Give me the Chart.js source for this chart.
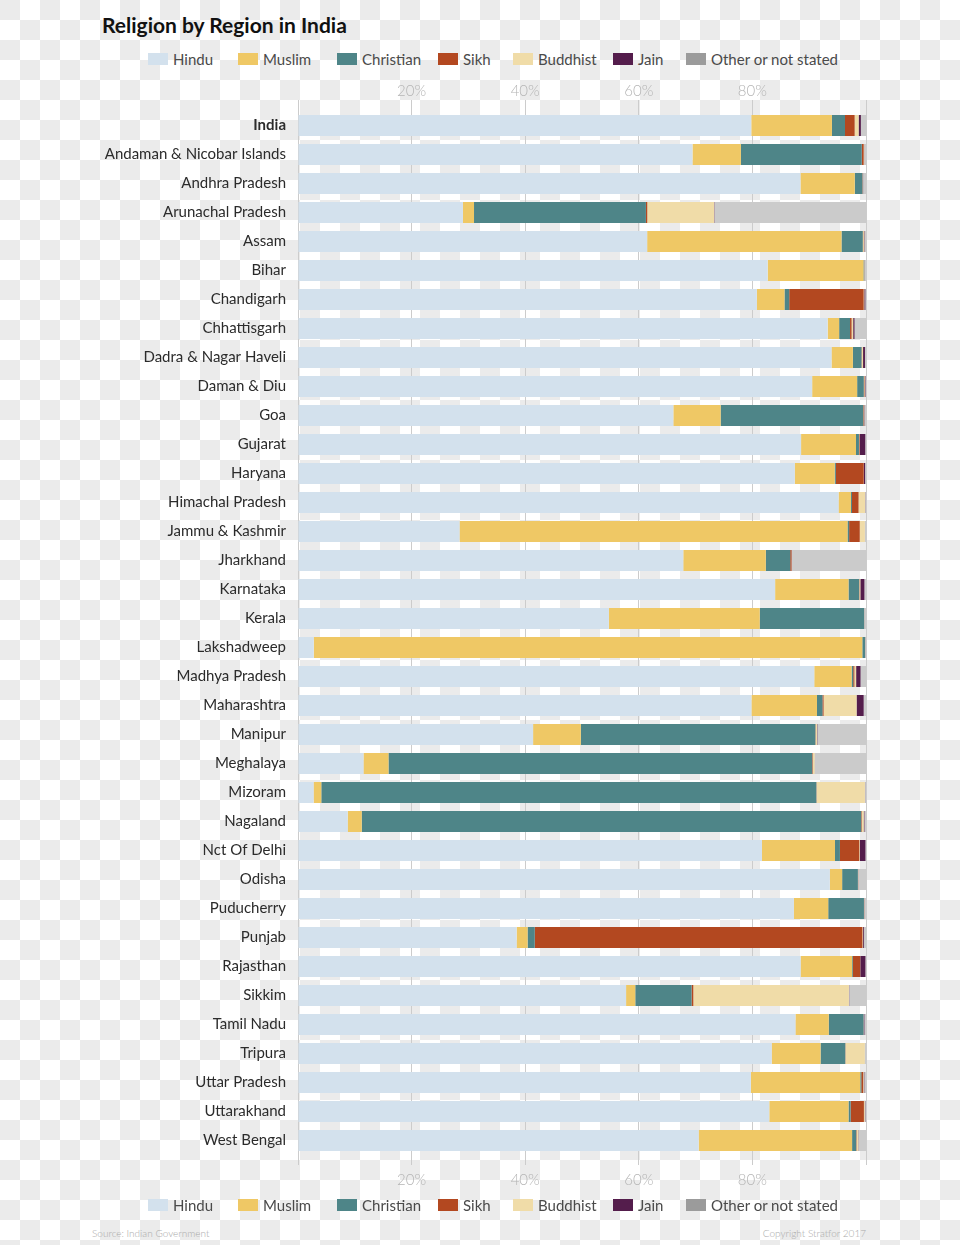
<!DOCTYPE html>
<html>
<head>
<meta charset="utf-8">
<script src="https://cdn.jsdelivr.net/npm/chart.js@4.4.0/dist/chart.umd.min.js"></script>
<style>
    html, body { margin: 0; padding: 0; }
    body {
        width: 960px; height: 1245px; position: relative; overflow: hidden;
        font-family: Lato, sans-serif;
        background: repeating-conic-gradient(#ebebeb 0 25%, #ffffff 0 50%) 20px 0 / 40px 40px;
    }
    #title { position: absolute; left: 102px; top: 12px; font-size: 21px; font-weight: 700; color: #111; }
    .legend { position: absolute; left: 0; width: 960px; height: 18px; font-size: 15px; font-weight: 400; color: #4a4a4a; line-height: 18px; }
    .legend .item { position: absolute; top: 0; display: flex; align-items: center; gap: 5px; white-space: nowrap; }
    .legend i { display: inline-block; width: 20px; height: 12px; }
    #wrap { position: absolute; left: 0; top: 70px; }
    .note { position: absolute; top: 1227px; font-size: 10px; font-weight: 300; color: #aaa; }
</style>
</head>
<body>
<div id="title">Religion by Region in India</div>
<div class="legend" id="legendTop" style="top:50px"></div>
<div id="wrap"><canvas id="chart" width="960" height="1130"></canvas></div>
<div class="legend" id="legendBottom" style="top:1196px"></div>
<div class="note" style="left:92px">Source: Indian Government</div>
<div class="note" style="right:94px">Copyright Stratfor 2017</div>
<script>
// data (percent of population, 2011 census)
const regions = [
    'India', 'Andaman & Nicobar Islands', 'Andhra Pradesh', 'Arunachal Pradesh', 'Assam', 'Bihar',
    'Chandigarh', 'Chhattisgarh', 'Dadra & Nagar Haveli', 'Daman & Diu', 'Goa', 'Gujarat',
    'Haryana', 'Himachal Pradesh', 'Jammu & Kashmir', 'Jharkhand', 'Karnataka', 'Kerala',
    'Lakshadweep', 'Madhya Pradesh', 'Maharashtra', 'Manipur', 'Meghalaya', 'Mizoram',
    'Nagaland', 'Nct Of Delhi', 'Odisha', 'Puducherry', 'Punjab', 'Rajasthan',
    'Sikkim', 'Tamil Nadu', 'Tripura', 'Uttar Pradesh', 'Uttarakhand', 'West Bengal'
];
const religions = ['Hindu', 'Muslim', 'Christian', 'Sikh', 'Buddhist', 'Jain', 'Other or not stated'];

const hindu     = [79.8, 69.45, 88.46, 29.04, 61.47, 82.69, 80.78, 93.25, 93.93, 90.52, 66.08, 88.57, 87.46, 95.17, 28.44, 67.83, 84.0, 54.73, 2.77, 90.89, 79.83, 41.39, 11.53, 2.75, 8.75, 81.68, 93.63, 87.3, 38.49, 88.49, 57.76, 87.58, 83.4, 79.73, 82.97, 70.54];
const muslim    = [14.2, 8.52, 9.56, 1.95, 34.22, 16.87, 4.87, 2.02, 3.76, 7.92, 8.33, 9.67, 7.03, 2.18, 68.31, 14.53, 12.92, 26.56, 96.58, 6.57, 11.54, 8.4, 4.4, 1.35, 2.47, 12.86, 2.17, 6.05, 1.93, 9.07, 1.62, 5.86, 8.6, 19.26, 13.95, 27.01];
const christian = [2.3, 21.28, 1.34, 30.26, 3.74, 0.12, 0.83, 1.92, 1.51, 1.16, 25.1, 0.52, 0.2, 0.18, 0.28, 4.3, 1.87, 18.38, 0.49, 0.29, 0.96, 41.29, 74.59, 87.16, 87.93, 0.87, 2.77, 6.29, 1.26, 0.14, 9.91, 6.12, 4.35, 0.18, 0.37, 0.72];
const sikh      = [1.7, 0.34, 0.05, 0.24, 0.07, 0.02, 13.11, 0.27, 0.06, 0.12, 0.1, 0.1, 4.91, 1.16, 1.87, 0.22, 0.05, 0.01, 0.01, 0.21, 0.2, 0.05, 0.1, 0.04, 0.1, 3.4, 0.04, 0.02, 57.69, 1.27, 0.31, 0.02, 0.03, 0.32, 2.34, 0.07];
const buddhist  = [0.7, 0.09, 0.03, 11.77, 0.18, 0.02, 0.11, 0.28, 0.22, 0.1, 0.08, 0.05, 0.03, 1.15, 0.9, 0.03, 0.16, 0.01, 0.02, 0.3, 5.81, 0.25, 0.33, 8.51, 0.34, 0.11, 0.03, 0.04, 0.12, 0.02, 27.39, 0.02, 3.41, 0.1, 0.15, 0.31];
const jain      = [0.4, 0.02, 0.05, 0.06, 0.08, 0.02, 0.19, 0.24, 0.34, 0.08, 0.08, 0.96, 0.21, 0.03, 0.02, 0.05, 0.72, 0.01, 0.02, 0.78, 1.25, 0.06, 0.02, 0.03, 0.13, 0.99, 0.02, 0.04, 0.16, 0.91, 0.05, 0.12, 0.02, 0.11, 0.09, 0.06];
const other     = [0.9, 0.3, 0.51, 26.68, 0.24, 0.26, 0.11, 2.02, 0.18, 0.1, 0.23, 0.13, 0.16, 0.13, 0.18, 13.04, 0.28, 0.3, 0.11, 0.96, 0.41, 8.56, 9.03, 0.16, 0.28, 0.09, 1.34, 0.26, 0.35, 0.1, 2.96, 0.28, 0.19, 0.3, 0.13, 1.29];
const xTicks = [20, 40, 60, 80];

const series = [hindu, muslim, christian, sikh, buddhist, jain, other];
const barColors = ['#d3e1ed', '#efc865', '#4e8588', '#b34820', '#f0dca8', '#541d4c', '#cbcbcb'];
const swatchColors = ['#d3e1ed', '#efc865', '#4e8588', '#b34820', '#f0dca8', '#541d4c', '#9b9b9b'];
const legendLeft = [148, 238, 337, 438, 513, 613, 686]; // px, layout of the legend items

// html legends, top and bottom
function buildLegend (el) {
    religions.forEach((name, i) => {
        const item = document.createElement('span');
        item.className = 'item';
        item.style.left = legendLeft[i] + 'px';
        const sw = document.createElement('i');
        sw.style.background = swatchColors[i];
        item.append(sw, document.createTextNode(name));
        el.append(item);
    });
}
buildLegend(document.getElementById('legendTop'));
buildLegend(document.getElementById('legendBottom'));

const tickFont = { family: 'Lato', size: 15, weight: 300 };
const gridColor = '#cccccc';
const pctLabel = v => xTicks.includes(v) ? v + '%' : '';

new Chart(document.getElementById('chart'), {
    type: 'bar',
    data: {
        labels: regions,
        datasets: series.map((values, i) => ({
            label: religions[i],
            data: values,
            backgroundColor: barColors[i],
            borderWidth: 0,
            categoryPercentage: 1,
            barPercentage: 0.724
        }))
    },
    options: {
        indexAxis: 'y',
        responsive: false,
        animation: false,
        layout: { padding: { left: 0, right: 94, top: 0, bottom: 0 } },
        plugins: { legend: { display: false }, tooltip: { enabled: false } },
        scales: {
            x: {
                position: 'bottom', stacked: true, min: 0, max: 100,
                ticks: { stepSize: 20, callback: pctLabel, color: '#b5b5b5', font: tickFont, padding: 6, maxRotation: 0 },
                grid: { color: gridColor, tickLength: 10 },
                border: { display: false },
                afterFit: s => { s.height = 45; }
            },
            x2: {
                type: 'linear', position: 'top', min: 0, max: 100,
                ticks: { stepSize: 20, callback: pctLabel, color: '#b5b5b5', font: tickFont, padding: 0, maxRotation: 0 },
                grid: { color: gridColor, tickLength: 11, drawOnChartArea: false },
                border: { display: false },
                afterFit: s => { s.height = 41; }
            },
            y: {
                stacked: true,
                grid: { display: false, drawTicks: false },
                border: { display: false },
                ticks: {
                    autoSkip: false, padding: 12, color: '#2b2b2b',
                    font: c => ({ family: 'Lato', size: 15, weight: c.index === 0 ? 700 : 400 })
                },
                afterFit: s => { s.width = 298; }
            }
        }
    }
});
</script>
</body>
</html>
